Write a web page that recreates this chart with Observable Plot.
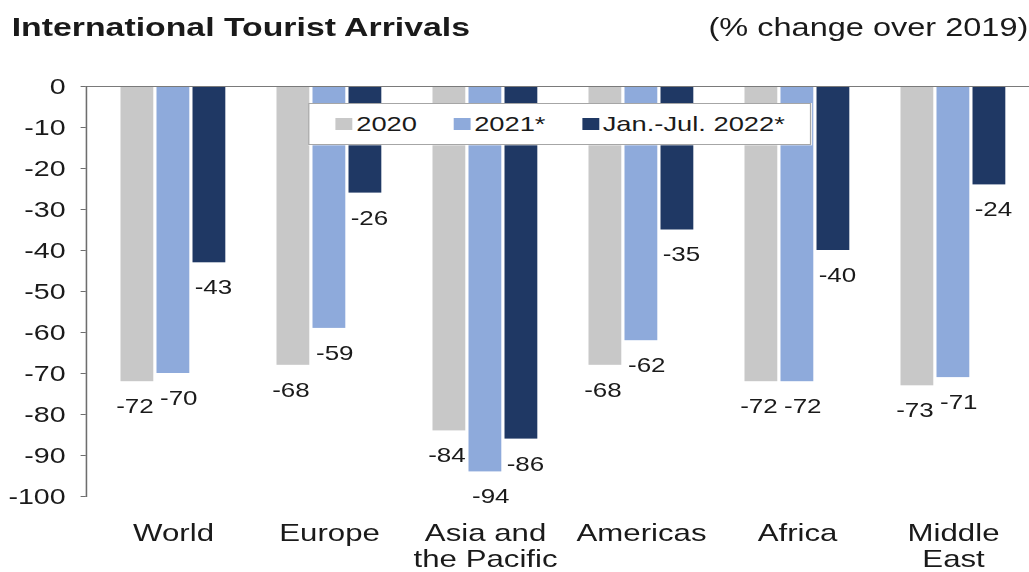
<!DOCTYPE html>
<html>
<head>
<meta charset="utf-8">
<script src="https://cdn.jsdelivr.net/npm/d3@7"></script>
<script src="https://cdn.jsdelivr.net/npm/@observablehq/plot@0.6"></script>
<style>
  body { margin: 0; background: #fff; font-family: "Liberation Sans", Arial, sans-serif; color: #1a1a1a; }
  #wrap { position: relative; width: 792px; height: 572px; transform: scaleX(1.3); transform-origin: 0 0; overflow: visible; }
  #title { position: absolute; left: 9px; top: 12px; font-size: 26px; font-weight: bold; line-height: 30px; white-space: nowrap; color: #1a1a1a; }
  #sub { position: absolute; right: 1px; top: 12px; font-size: 25px; line-height: 30px; white-space: nowrap; color: #1a1a1a; }
  #chart { position: absolute; left: 0; top: 50px; }
  #chart svg { overflow: visible; }
  #legend { position: absolute; left: 237px; top: 103px; width: 387px; height: 42px; box-sizing: border-box;
            background: #fff; border: 1px solid #a6a6a6; display: flex; align-items: center; padding-left: 20px;
            font-size: 21px; white-space: nowrap; color: #1a1a1a; }
  .item { display: flex; align-items: center; margin-right: 28px; }
  .sw { width: 13px; height: 12px; margin-right: 3px; }
</style>
</head>
<body>
<div id="wrap">
  <div id="title">International Tourist Arrivals</div>
  <div id="sub">(% change over 2019)</div>
  <div id="chart"></div>
  <div id="legend"></div>
</div>
<script>
const categories = ["World", "Europe", "Asia and\nthe Pacific", "Americas", "Africa", "Middle\nEast"];
const series = ["2020", "2021*", "Jan.-Jul. 2022*"];
const values2020 = [-72, -68, -84, -68, -72, -73];
const values2021 = [-70, -59, -94, -62, -72, -71];
const values2022 = [-43, -26, -86, -35, -40, -24];
const yTicks = [0, -10, -20, -30, -40, -50, -60, -70, -80, -90, -100];
const colors = ["#c8c8c8", "#8eaadb", "#1f3864"];

const seriesValues = [values2020, values2021, values2022];
const data = seriesValues.map(vals => categories.map((c, i) => ({category: c, value: vals[i]})));

const xRange = [70.8, 795.4];
const bandW = (xRange[1] - xRange[0]) / categories.length;
const barW = 26;
const inset = (bandW - barW) / 2;
const offsets = [-27.7, 0, 27.7];
const labelDx = [-2, 4, 3];

const marks = [];
data.forEach((d, i) => {
  marks.push(Plot.barY(d, {x: "category", y: "value", fill: colors[i], dx: offsets[i], insetLeft: inset, insetRight: inset}));
});
data.forEach((d, i) => {
  marks.push(Plot.text(d, {x: "category", y: "value", text: r => String(r.value), dx: offsets[i] + labelDx[i], dy: 25, fontSize: 20, fill: "#1a1a1a"}));
});
marks.push(Plot.ruleY([0], {stroke: "#7a7a7a", strokeWidth: 1.2}));
marks.push(Plot.frame({anchor: "left", stroke: "#6e6e6e", strokeWidth: 1.2}));
marks.push(Plot.axisY({ticks: yTicks, tickFormat: d => String(d), tickSize: 4, tickPadding: 12, fontSize: 22, label: null, stroke: "#6e6e6e"}));
marks.push(Plot.axisX({tickSize: 0, tickPadding: 27, fontSize: 24, label: null, lineHeight: 1.05}));

const chart = Plot.plot({
  width: 792,
  height: 522,
  marginTop: 36,
  marginBottom: 76,
  marginLeft: 66,
  marginRight: 0,
  style: {fontFamily: '"Liberation Sans", Arial, sans-serif', color: "#1a1a1a", background: "transparent", overflow: "visible"},
  x: {type: "band", domain: categories, range: xRange, padding: 0},
  y: {domain: [-100, 0]},
  marks
});
document.getElementById("chart").appendChild(chart);

const legend = document.getElementById("legend");
series.forEach((s, i) => {
  const it = document.createElement("div");
  it.className = "item";
  const sw = document.createElement("div");
  sw.className = "sw";
  sw.style.background = colors[i];
  const t = document.createElement("span");
  t.textContent = s;
  it.appendChild(sw);
  it.appendChild(t);
  legend.appendChild(it);
});
</script>
</body>
</html>
